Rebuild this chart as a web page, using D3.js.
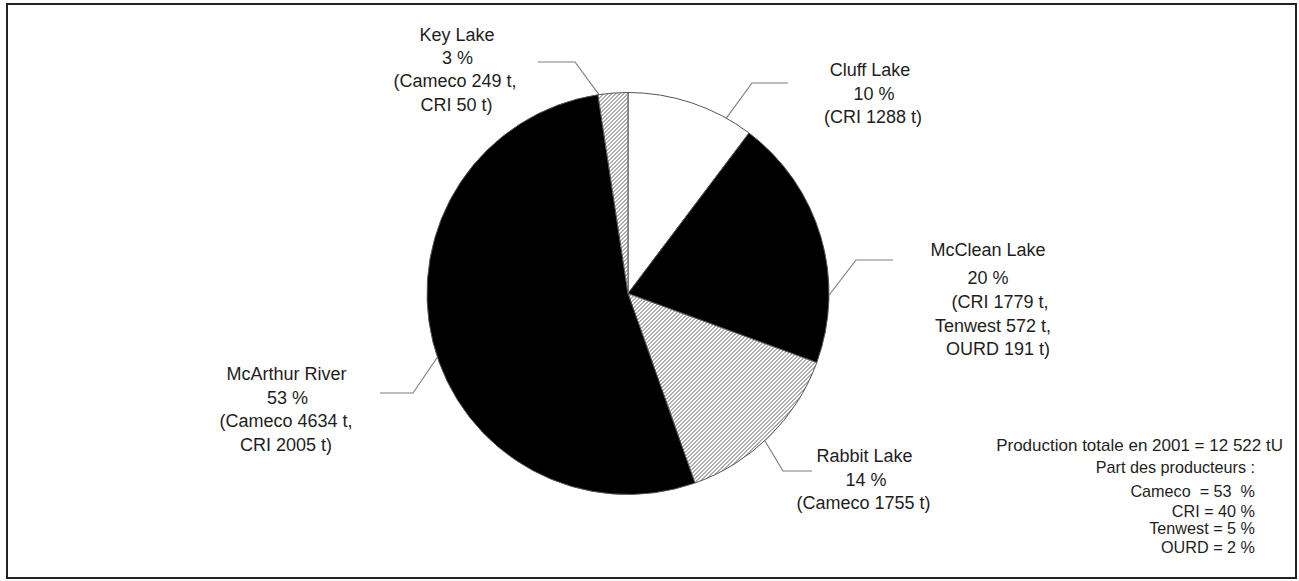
<!DOCTYPE html>
<html>
<head>
<meta charset="utf-8">
<script src="https://cdn.jsdelivr.net/npm/d3@7"></script>
<style>
  body { margin: 0; background: #fff; }
  text { font-family: "Liberation Sans", Arial, sans-serif; fill: #1e1e1e; }
</style>
</head>
<body>
<div id="renderer"></div>
<script>
// data
var mines = ['Cluff Lake', 'McClean Lake', 'Rabbit Lake', 'McArthur River', 'Key Lake'];
var tonnes = [1288, 2542, 1755, 6639, 299];
var percents = ['10 %', '20 %', '14 %', '53 %', '3 %'];
var details = [
  ['(CRI 1288 t)'],
  ['(CRI 1779 t,', 'Tenwest 572 t,', 'OURD 191 t)'],
  ['(Cameco 1755 t)'],
  ['(Cameco 4634 t,', 'CRI 2005 t)'],
  ['(Cameco 249 t,', 'CRI 50 t)']
];
var fills = ['white', 'black', 'hatch', 'black', 'hatch'];
var noteTitle = 'Production totale en 2001 = 12 522 tU';
var noteLines = ['Part des producteurs :', 'Cameco  = 53  %', 'CRI = 40 %', 'Tenwest = 5 %', 'OURD = 2 %'];

// layout
var width = 1299, height = 581;
var cx = 628, cy = 293.5, r = 201;
var fontSize = 18;

// per label: leader anchor angle (deg), elbow x/y, end x of horizontal, text line x, baselines
var labelLayout = [
  { ang: 29.3, ex: 752, ey: 83, hx: 788, xs: [870, 874, 873], ys: [76, 100, 123.3] },
  { ang: 90.5, ex: 856, ey: 260, hx: 893, xs: [988, 988, 1000, 993, 998], ys: [256, 284.3, 307.7, 331.7, 355.3] },
  { ang: 137.1, ex: 783, ey: 471, hx: 812, xs: [864.5, 866, 863.5], ys: [461.7, 486, 509.3] },
  { ang: 251.5, ex: 413, ey: 393, hx: 380, xs: [286.5, 287.5, 286, 286], ys: [380, 404, 427.3, 450.7] },
  { ang: 351.7, ex: 575, ey: 62, hx: 538, xs: [457, 457.5, 455, 456.5], ys: [41, 63.5, 87, 110.5] }
];

var svg = d3
  .select('#renderer')
  .append('svg')
  .attr('width', width)
  .attr('height', height);

var defs = svg.append('defs');
var pat = defs
  .append('pattern')
  .attr('id', 'hatch')
  .attr('patternUnits', 'userSpaceOnUse')
  .attr('width', 4)
  .attr('height', 4);
pat.append('rect').attr('width', 4).attr('height', 4).attr('fill', '#fff');
pat
  .append('path')
  .attr('d', 'M-1,1 l2,-2 M0,4 l4,-4 M3,5 l2,-2')
  .attr('stroke', '#4a4a4a')
  .attr('stroke-width', 0.9);

// frame
svg
  .append('rect')
  .attr('x', 7)
  .attr('y', 4)
  .attr('width', 1289)
  .attr('height', 574)
  .attr('fill', 'none')
  .attr('stroke', '#222')
  .attr('stroke-width', 2);

var pie = d3.pie().sort(null).value(function (d) { return d; });
var arcs = pie(tonnes);
var arc = d3.arc().innerRadius(0).outerRadius(r);

var g = svg.append('g').attr('transform', 'translate(' + cx + ',' + cy + ')');

g.selectAll('path.slice')
  .data(arcs)
  .enter()
  .append('path')
  .attr('class', 'slice')
  .attr('d', arc)
  .attr('fill', function (d, i) {
    return fills[i] === 'hatch' ? 'url(#hatch)' : fills[i];
  })
  .attr('stroke', '#555')
  .attr('stroke-width', 1);

// leader lines and labels
var leaders = svg.append('g');
labelLayout.forEach(function (l, i) {
  var a = (l.ang * Math.PI) / 180;
  var px = cx + r * Math.sin(a);
  var py = cy - r * Math.cos(a);
  leaders
    .append('polyline')
    .attr('points', [[l.hx, l.ey], [l.ex, l.ey], [px, py]].map(function (p) { return p.join(','); }).join(' '))
    .attr('fill', 'none')
    .attr('stroke', '#7f7f7f')
    .attr('stroke-width', 1.2);

  var lines = [mines[i], percents[i]].concat(details[i]);
  lines.forEach(function (t, j) {
    leaders
      .append('text')
      .attr('x', l.xs[j])
      .attr('y', l.ys[j])
      .attr('text-anchor', 'middle')
      .style('font-size', fontSize + 'px')
      .style('white-space', 'pre')
      .text(t);
  });
});

// note, bottom right
var note = svg.append('g');
note
  .append('text')
  .attr('x', 1283)
  .attr('y', 451)
  .attr('text-anchor', 'end')
  .style('font-size', '17px')
  .text(noteTitle);
var noteYs = [473.3, 496.7, 517.3, 534, 553.3];
noteLines.forEach(function (t, j) {
  note
    .append('text')
    .attr('x', 1255)
    .attr('y', noteYs[j])
    .attr('text-anchor', 'end')
    .style('font-size', '16.2px')
    .style('white-space', 'pre')
    .text(t);
});
</script>
</body>
</html>
